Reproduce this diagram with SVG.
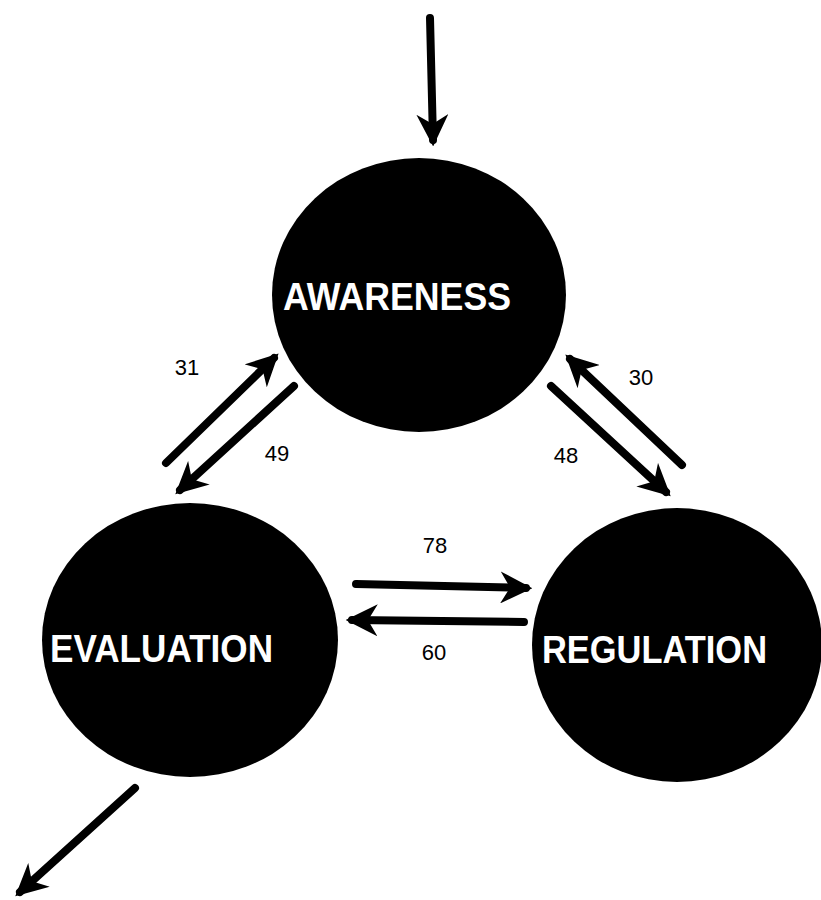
<svg xmlns="http://www.w3.org/2000/svg" width="821" height="900" viewBox="0 0 821 900">
<style>
.node{fill:#000}
.lbl{font-family:"Liberation Sans",Arial,sans-serif;font-weight:bold;font-size:39px;fill:#fff}
.num{font-family:"Liberation Sans",Arial,sans-serif;font-size:22px;fill:#000;text-anchor:middle}
.edge{stroke:#000;stroke-width:8;stroke-linecap:round;fill:none}
</style>
<defs>
<marker id="ah" viewBox="0 0 10 10" refX="8" refY="5" markerWidth="4" markerHeight="4" orient="auto" markerUnits="strokeWidth">
<path d="M0,0 L10,5 L0,10 L3,5 Z" fill="#000"/>
</marker>
</defs>
<rect width="821" height="900" fill="#fff"/>
<g id="connectors">
<line class="edge" x1="430" y1="18" x2="433" y2="140" marker-end="url(#ah)"/>
<line class="edge" x1="166" y1="463" x2="274" y2="358" marker-end="url(#ah)"/>
<line class="edge" x1="294" y1="386" x2="180" y2="490" marker-end="url(#ah)"/>
<line class="edge" x1="551" y1="386" x2="666" y2="492" marker-end="url(#ah)"/>
<line class="edge" x1="682" y1="465" x2="570" y2="359" marker-end="url(#ah)"/>
<line class="edge" x1="356" y1="584" x2="526" y2="588" marker-end="url(#ah)"/>
<line class="edge" x1="524" y1="622" x2="352" y2="620" marker-end="url(#ah)"/>
<line class="edge" x1="135" y1="788" x2="20" y2="892" marker-end="url(#ah)"/>
<text class="num" x="187" y="375">31</text>
<text class="num" x="277" y="461">49</text>
<text class="num" x="566" y="463">48</text>
<text class="num" x="641" y="385">30</text>
<text class="num" x="435" y="553">78</text>
<text class="num" x="434" y="660">60</text>
</g>
<g id="awareness">
<ellipse class="node" cx="419" cy="295" rx="147" ry="137"/>
<text class="lbl" x="283" y="310" textLength="228" lengthAdjust="spacingAndGlyphs">AWARENESS</text>
</g>
<g id="evaluation">
<ellipse class="node" cx="190" cy="640" rx="148" ry="137"/>
<text class="lbl" x="50" y="662" textLength="223" lengthAdjust="spacingAndGlyphs">EVALUATION</text>
</g>
<g id="regulation">
<ellipse class="node" cx="677" cy="645" rx="145" ry="137"/>
<text class="lbl" x="542" y="663" textLength="225" lengthAdjust="spacingAndGlyphs">REGULATION</text>
</g>
</svg>
